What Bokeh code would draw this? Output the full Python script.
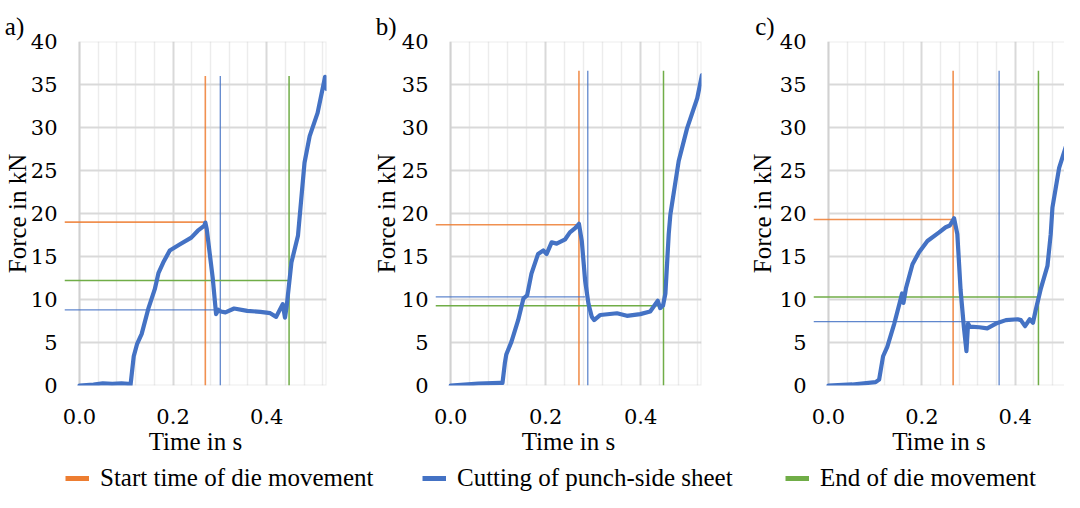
from bokeh.plotting import figure
from bokeh.models import (Range1d, FixedTicker, BoxAnnotation, Legend, Title,
                          LegendItem, PrintfTickFormatter)
from bokeh.layouts import row, column
from bokeh.embed import file_html
from bokeh.resources import INLINE

FONT = "Liberation Serif"
TICK_FONT = "DejaVu Serif"
FS = "25px"
TICK_FS = "21px"
ORANGE = "#ED7D31"
BLUE = "#4472C4"
GREEN = "#70AD47"

# ---------------- data ----------------
time_a = [0.0, 0.03, 0.05, 0.07, 0.09, 0.104, 0.109, 0.116, 0.123, 0.133, 0.147,
          0.161, 0.169, 0.179, 0.193, 0.214, 0.239, 0.253, 0.267, 0.269, 0.272,
          0.285, 0.292, 0.297, 0.302, 0.312, 0.3305, 0.3586, 0.3867, 0.4077,
          0.4204, 0.4344, 0.4393, 0.443, 0.453, 0.467, 0.481, 0.492, 0.509,
          0.525, 0.528]
force_a = [0.0, 0.1, 0.25, 0.2, 0.25, 0.2, 0.0, 3.4, 4.8, 6.0, 8.9,
           11.2, 13.1, 14.3, 15.7, 16.4, 17.2, 18.0, 18.6, 18.95, 18.2,
           12.4, 8.3, 8.8, 8.6, 8.5, 8.95, 8.68, 8.57, 8.41,
           7.98, 9.46, 7.9, 9.26, 14.3, 17.4, 25.9, 29.0, 31.7,
           35.9, 34.5]

time_b = [0.0, 0.058, 0.1035, 0.109, 0.114, 0.117, 0.128, 0.142, 0.153, 0.161,
          0.170, 0.184, 0.195, 0.202, 0.2125, 0.223, 0.241, 0.251, 0.262, 0.270,
          0.276, 0.283, 0.290, 0.297, 0.302, 0.315, 0.350, 0.371, 0.399, 0.420,
          0.436, 0.441, 0.447, 0.452, 0.459, 0.4625, 0.480, 0.4976, 0.519, 0.529]
force_b = [0.0, 0.23, 0.31, 0.3, 2.6, 3.6, 5.1, 7.6, 10.1, 10.5,
           13.0, 15.3, 15.7, 15.3, 16.65, 16.5, 17.0, 17.8, 18.3, 18.8,
           16.8, 12.2, 9.5, 8.0, 7.6, 8.2, 8.4, 8.1, 8.3, 8.6,
           9.85, 9.0, 9.3, 10.7, 17.6, 19.9, 26.1, 29.9, 33.4, 36.1]

time_c = [0.0, 0.051, 0.101, 0.1085, 0.117, 0.126, 0.141, 0.153, 0.1576, 0.1606,
          0.166, 0.180, 0.194, 0.212, 0.237, 0.251, 0.260, 0.269, 0.276, 0.283,
          0.290, 0.2955, 0.299, 0.3027, 0.323, 0.340, 0.3587, 0.380, 0.405, 0.412,
          0.421, 0.431, 0.438, 0.444, 0.455, 0.469, 0.476, 0.4797, 0.494, 0.512,
          0.5225, 0.53]
force_c = [0.0, 0.12, 0.39, 0.69, 3.4, 4.5, 7.2, 9.7, 10.7, 9.6,
           11.3, 14.1, 15.5, 16.8, 17.8, 18.4, 18.6, 19.45, 17.6, 11.1,
           6.8, 4.0, 7.2, 6.85, 6.77, 6.65, 7.2, 7.6, 7.7, 7.6,
           6.9, 7.7, 7.3, 8.8, 11.3, 13.9, 17.6, 20.7, 25.3, 28.4,
           33.0, 36.0]

# reference markers per panel (a, b, c)
start_time = [0.269, 0.270, 0.267]
start_force = [19.0, 18.7, 19.3]
cut_time = [0.301, 0.2886, 0.3655]
cut_force = [8.8, 10.3, 7.42]
cut_force_line_end = [0.288, 0.283, 0.3655]
end_time = [0.448, 0.448, 0.4497]
end_force = [12.2, 9.27, 10.3]
marker_top = [36.0, 36.6, 36.6]

panel_tags = ["a)", "b)", "c)"]
legend_labels = ["Start time of die movement", "Cutting of punch-side sheet",
                 "End of die movement"]

y_ticks = [0, 5, 10, 15, 20, 25, 30, 35, 40]
x_label_ticks = [0.0, 0.2, 0.4]
x_minor_ticks = [0.04, 0.08, 0.12, 0.16, 0.24, 0.28, 0.32, 0.36, 0.44, 0.48, 0.52]

H_START = -0.032   # horizontal marker lines start slightly left of the axis
TOTAL_W = 1064


def make_panel(i, t, f, width, bl, br, bt, x_end, box_right, tag_offset,
               ylabel_standoff):
    p = figure(width=width, height=462,
               x_range=Range1d(H_START, x_end), y_range=Range1d(0, 40),
               output_backend="svg", toolbar_location=None,
               min_border_left=bl, min_border_right=br,
               min_border_top=bt, min_border_bottom=77,
               outline_line_color=None)
    # grid
    p.xgrid.ticker = FixedTicker(ticks=x_label_ticks, minor_ticks=x_minor_ticks)
    p.xgrid.grid_line_color = "#d9d9d9"
    p.xgrid.grid_line_width = 2
    p.xgrid.minor_grid_line_color = "#ececec"
    p.xgrid.minor_grid_line_width = 1.5
    p.ygrid.ticker = FixedTicker(ticks=y_ticks)
    p.ygrid.grid_line_color = "#d9d9d9"
    p.ygrid.grid_line_width = 2
    p.ygrid.cross_bounds = (0, box_right)

    # axes
    p.xaxis.ticker = FixedTicker(ticks=x_label_ticks)
    p.xaxis.formatter = PrintfTickFormatter(format="%.1f")
    p.xaxis.axis_label = "Time in s"
    p.yaxis.ticker = FixedTicker(ticks=y_ticks)
    p.yaxis.axis_label = "Force in kN"
    for ax in (p.xaxis[0], p.yaxis[0]):
        ax.axis_line_color = None
        ax.major_tick_line_color = None
        ax.minor_tick_line_color = None
        ax.major_tick_in = 0
        ax.major_tick_out = 0
        ax.minor_tick_in = 0
        ax.minor_tick_out = 0
        ax.major_label_text_font = TICK_FONT
        ax.major_label_text_font_size = TICK_FS
        ax.major_label_text_color = "black"
        ax.axis_label_text_font = FONT
        ax.axis_label_text_font_size = FS
        ax.axis_label_text_font_style = "normal"
        ax.axis_label_text_color = "black"
    p.xaxis.major_label_standoff = 23
    p.xaxis.axis_label_standoff = 1
    p.yaxis.major_label_standoff = 7
    p.yaxis.axis_label_standoff = ylabel_standoff

    # plot-area box
    p.add_layout(BoxAnnotation(left=0, right=box_right, bottom=0, top=40,
                               fill_color=None, fill_alpha=0,
                               line_color="#bfbfbf", line_width=2,
                               level="underlay"))

    # marker lines
    p.segment(x0=[H_START, start_time[i]], y0=[start_force[i], 0],
              x1=[start_time[i], start_time[i]], y1=[start_force[i], marker_top[i]],
              line_color=ORANGE, line_width=1.6, line_alpha=0.85)
    p.segment(x0=[H_START, cut_time[i]], y0=[cut_force[i], 0],
              x1=[cut_force_line_end[i], cut_time[i]], y1=[cut_force[i], marker_top[i]],
              line_color=BLUE, line_width=1.3, line_alpha=0.85)
    p.segment(x0=[H_START, end_time[i]], y0=[end_force[i], 0],
              x1=[end_time[i], end_time[i]], y1=[end_force[i], marker_top[i]],
              line_color=GREEN, line_width=1.5)

    # force curve
    p.line(t, f, line_color=BLUE, line_width=4.2, line_join="round", line_cap="round")

    # panel tag
    p.title.text = ""
    p.add_layout(Title(text=panel_tags[i], align="left", offset=tag_offset,
                       vertical_align="top", standoff=0, text_font=FONT,
                       text_font_size=FS, text_font_style="normal",
                       text_color="black"), "above")
    return p


pa = make_panel(0, time_a, force_a, 362, 60, 36, 41, 0.528, 0.528, -59.7, -3)
pb = make_panel(1, time_b, force_b, 375, 73, 36, 38, 0.528, 0.528, -59.7, -1)
pc = make_panel(2, time_c, force_c, 327, 76, 0, 38, 0.5055, 0.53, -58.3, 1)

# legend strip
lf = figure(width=TOTAL_W, height=30, x_range=Range1d(0, 1), y_range=Range1d(0, 1),
            x_axis_type=None, y_axis_type=None, output_backend="svg",
            toolbar_location=None, min_border=0, outline_line_color=None)
lf.grid.visible = False
legend_colors = [ORANGE, BLUE, GREEN]
legend_x = [65, 422, 785]
for lab, col, lx in zip(legend_labels, legend_colors, legend_x):
    r = lf.line(x=[5, 6], y=[5, 5], line_color=col, line_width=5)
    leg = Legend(items=[LegendItem(label=lab, renderers=[r])], location=(lx, 0),
                 orientation="horizontal", glyph_width=24, glyph_height=20,
                 label_standoff=11, padding=0, margin=0, border_line_color=None,
                 background_fill_alpha=0, label_text_font=FONT,
                 label_text_font_size=FS, label_text_color="black")
    lf.add_layout(leg)

layout = column(row(pa, pb, pc), lf)
open("out.html", "w").write(file_html(layout, INLINE))
